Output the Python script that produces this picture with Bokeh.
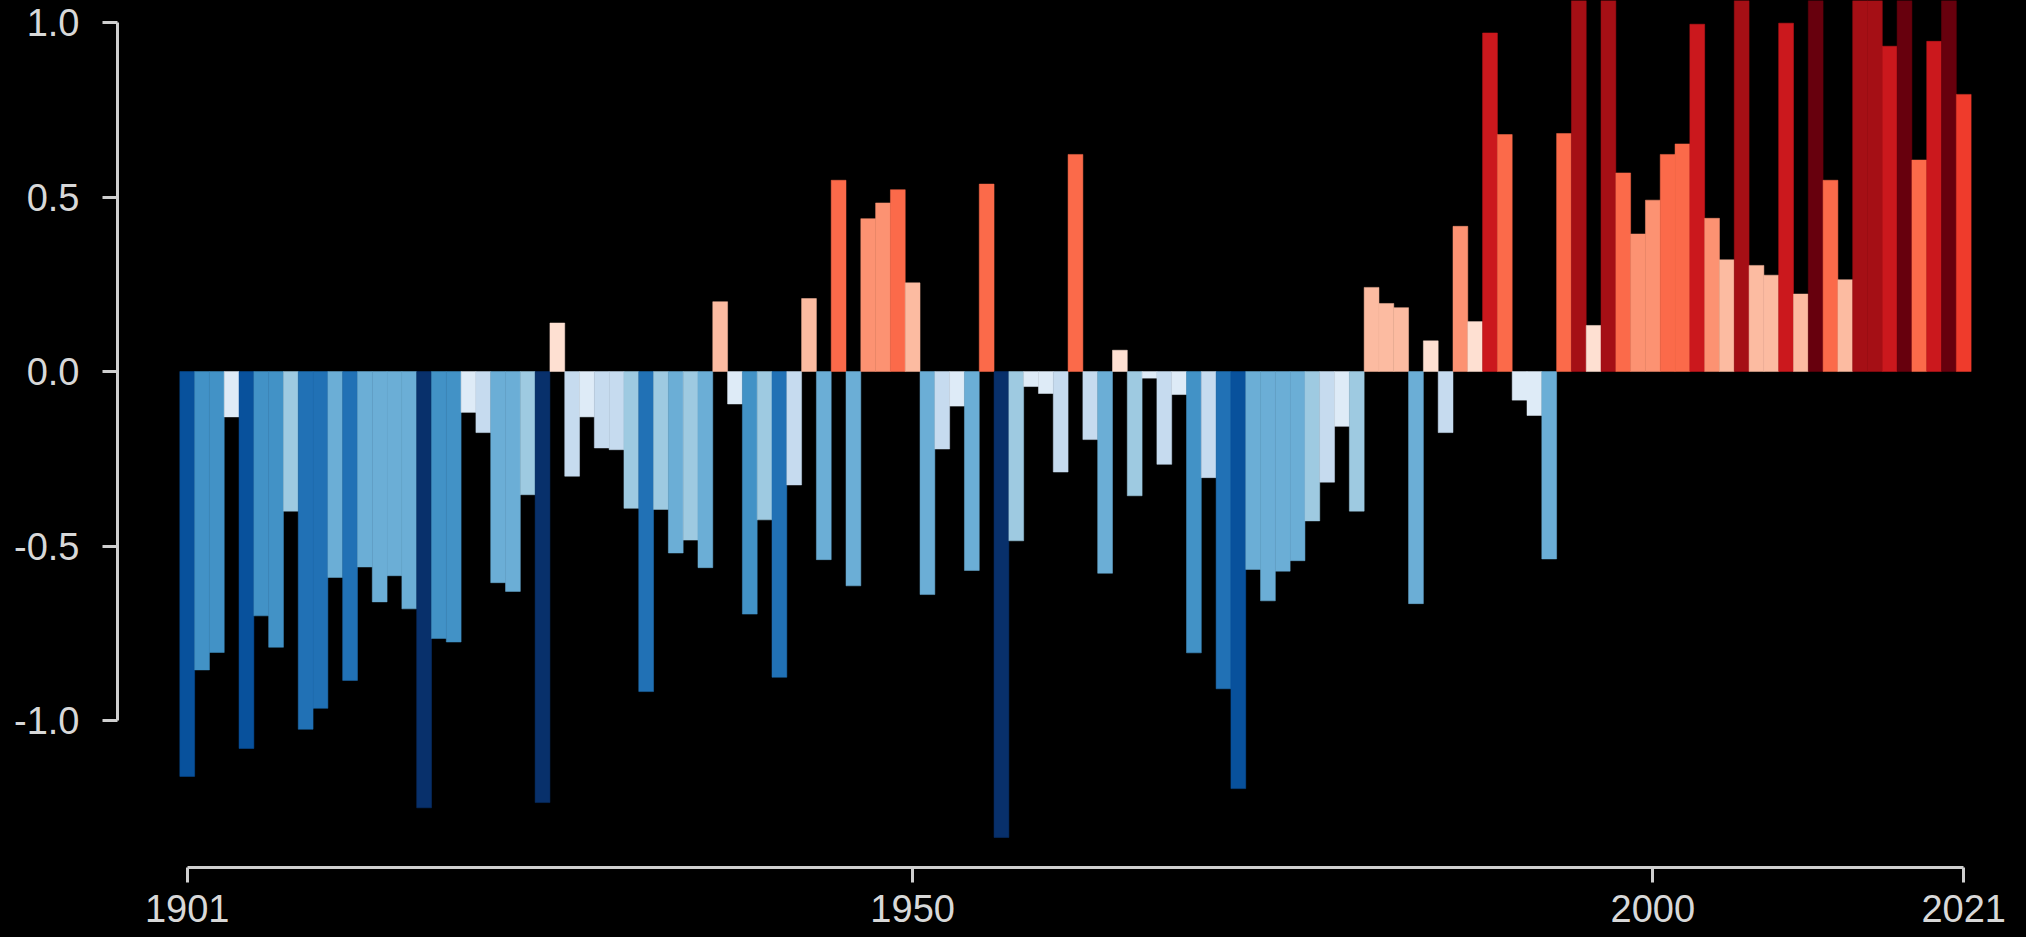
from bokeh.plotting import figure
from bokeh.models import ColumnDataSource, Range1d, FixedTicker, PrintfTickFormatter
from bokeh.transform import linear_cmap
from bokeh.embed import file_html
from bokeh.resources import INLINE

years = list(range(1901, 2022))
anomaly = [
    -1.16, -0.855, -0.805, -0.13, -1.08, -0.70, -0.79, -0.40, -1.025, -0.965,   # 1901-1910
    -0.59, -0.885, -0.56, -0.66, -0.585, -0.68, -1.25, -0.765, -0.775, -0.117,  # 1911-1920
    -0.175, -0.605, -0.63, -0.353, -1.235, 0.139, -0.30, -0.13, -0.219, -0.224, # 1921-1930
    -0.392, -0.917, -0.395, -0.52, -0.483, -0.562, 0.20, -0.093, -0.695, -0.425,# 1931-1940
    -0.876, -0.325, 0.209, -0.539, 0.548, -0.614, 0.438, 0.483, 0.521, 0.254,   # 1941-1950
    -0.639, -0.222, -0.099, -0.57, 0.537, -1.335, -0.485, -0.043, -0.063, -0.288,  # 1951-1960
    0.622, -0.195, -0.578, 0.061, -0.356, -0.019, -0.266, -0.066, -0.806, -0.304,  # 1961-1970
    -0.909, -1.195, -0.567, -0.657, -0.572, -0.542, -0.428, -0.317, -0.157, -0.40, # 1971-1980
    0.241, 0.195, 0.183, -0.665, 0.088, -0.175, 0.416, 0.143, 0.970, 0.679,     # 1981-1990
    -0.082, -0.126, -0.537, 0.682, 1.10, 0.132, 1.12, 0.569, 0.394, 0.491,      # 1991-2000
    0.622, 0.652, 0.995, 0.439, 0.32, 1.09, 0.304, 0.276, 0.998, 0.222,         # 2001-2010
    1.28, 0.548, 0.263, 1.15, 1.18, 0.932, 1.30, 0.606, 0.946, 1.35,            # 2011-2020
    0.794,                                                                      # 2021
]
stripe_palette = [
    "#08306b", "#08519c", "#2171b5", "#4292c6", "#6baed6", "#9ecae1", "#c6dbef", "#deebf7",
    "#fee0d2", "#fcbba1", "#fc9272", "#fb6a4a", "#ef3b2c", "#cb181d", "#a50f15", "#67000d",
]
color_low, color_high = -1.376, 1.376
x_ticks = [1901, 1950, 2000, 2021]
y_ticks = [-1.0, -0.5, 0.0, 0.5, 1.0]

src = ColumnDataSource(dict(year=years, anomaly=anomaly))

p = figure(
    width=2026, height=937, output_backend="svg", toolbar_location=None,
    x_range=Range1d(1896.29, 2025.24), y_range=Range1d(-1.421, 1.063),
    min_border_left=117, min_border_right=0, min_border_top=0, min_border_bottom=70,
    background_fill_color="black", border_fill_color="black", outline_line_color=None,
)
p.styles = {"background-color": "black"}
p.xgrid.visible = False
p.ygrid.visible = False

cmap = linear_cmap("anomaly", stripe_palette, low=color_low, high=color_high)
p.vbar(x="year", top="anomaly", bottom=0, width=1.0, source=src,
       fill_color=cmap, line_color=cmap, line_width=0.5)

axis_col = "#cfcfcf"
for ax in (p.xaxis[0], p.yaxis[0]):
    ax.axis_line_color = axis_col
    ax.axis_line_width = 3
    ax.major_tick_line_color = axis_col
    ax.major_tick_line_width = 3
    ax.major_tick_out = 15
    ax.major_tick_in = 0
    ax.minor_tick_out = 0
    ax.minor_tick_in = 0
    ax.major_label_text_font = "Liberation Sans"
    ax.major_label_text_font_size = "38px"
    ax.major_label_text_color = "#d8d8d8"

p.xaxis[0].ticker = FixedTicker(ticks=x_ticks)
p.xaxis[0].bounds = (x_ticks[0], x_ticks[-1])
p.xaxis[0].major_label_standoff = 12

p.yaxis[0].ticker = FixedTicker(ticks=y_ticks)
p.yaxis[0].bounds = (y_ticks[0], y_ticks[-1])
p.yaxis[0].formatter = PrintfTickFormatter(format="%.1f")
p.yaxis[0].major_label_standoff = 23

open("out.html", "w").write(file_html(p, INLINE))
